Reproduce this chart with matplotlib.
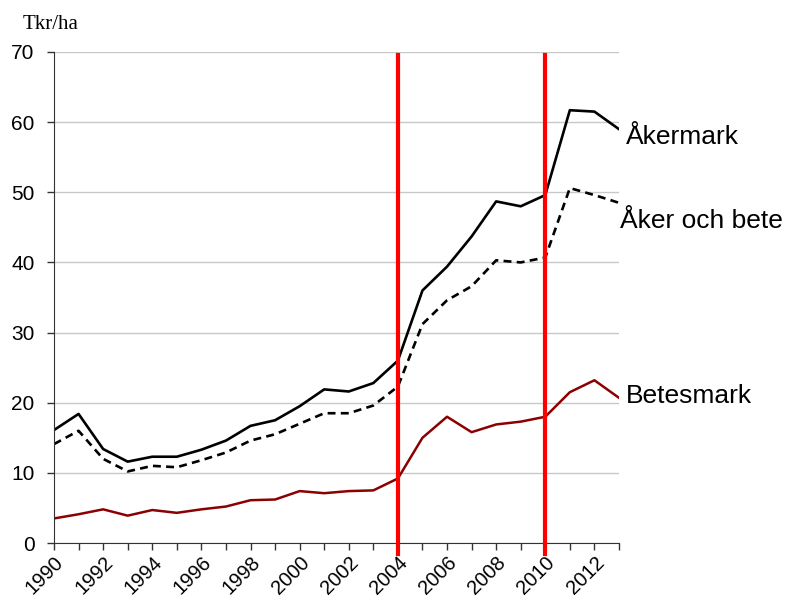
import matplotlib
matplotlib.use("Agg")
import matplotlib.pyplot as plt

# Värden (tkr/ha)
years = list(range(1990, 2014))
akermark = [16.1, 18.4, 13.4, 11.6, 12.3, 12.3, 13.3, 14.6, 16.7, 17.5, 19.5, 21.9,
            21.6, 22.8, 26.0, 36.0, 39.4, 43.7, 48.7, 48.0, 49.6, 61.7, 61.5, 59.0]
aker_och_bete = [14.1, 16.0, 12.0, 10.2, 11.0, 10.8, 11.8, 12.9, 14.6, 15.5, 17.0, 18.5,
                 18.5, 19.6, 22.3, 31.2, 34.6, 36.6, 40.3, 40.0, 40.7, 50.6, 49.6, 48.5]
betesmark = [3.5, 4.1, 4.8, 3.9, 4.7, 4.3, 4.8, 5.2, 6.1, 6.2, 7.4, 7.1,
             7.4, 7.5, 9.2, 15.0, 18.0, 15.8, 16.9, 17.3, 18.0, 21.5, 23.2, 20.7]
event_years = [2004, 2010]
yticks = [0, 10, 20, 30, 40, 50, 60, 70]
xtick_years = list(range(1990, 2013, 2))

plt.rcParams["font.family"] = ["Liberation Sans", "DejaVu Sans"]

fig = plt.figure(figsize=(7.86, 6.01), dpi=100)
ax = fig.add_axes([0.0687, 0.0965, 0.7188, 0.817])

ax.plot(years, akermark, color="black", lw=1.9)
ax.plot(years, aker_och_bete, color="black", lw=1.9, ls=(0, (3, 2)))
ax.plot(years, betesmark, color="#8b0000", lw=1.8)

for yr in event_years:
    ax.plot([yr, yr], [-1.5, 69.6], color="#ff0000", lw=3.0, clip_on=False, zorder=5)

ax.set_xlim(1990, 2013)
ax.set_ylim(0, 70)
ax.set_yticks(yticks)
ax.set_xticks(years)
ax.set_xticklabels([str(y) if y in xtick_years else "" for y in years],
                   rotation=45, ha="right", rotation_mode="anchor")
ax.tick_params(axis="both", length=5, width=1, color="#333333")
ax.tick_params(axis="y", labelsize=15, pad=9)
ax.tick_params(axis="x", labelsize=14.5, pad=2)
ax.grid(axis="y", color="#c8c8c8", lw=1)
ax.set_axisbelow(True)
for side in ("top", "right"):
    ax.spines[side].set_visible(False)
for side in ("left", "bottom"):
    ax.spines[side].set_color("#333333")

# Serienamn till höger om linjerna
ax.annotate("Åkermark", xy=(2013, akermark[-1]), xytext=(5, -6),
            textcoords="offset points", fontsize=19, va="center", ha="left",
            annotation_clip=False)
ax.annotate("Åker och bete", xy=(2013, aker_och_bete[-1]), xytext=(1, -13),
            textcoords="offset points", fontsize=19, va="center", ha="left",
            annotation_clip=False)
ax.annotate("Betesmark", xy=(2013, betesmark[-1]), xytext=(5, 1),
            textcoords="offset points", fontsize=19, va="center", ha="left",
            annotation_clip=False)

fig.text(0.029, 0.96, "Tkr/ha", fontsize=15, family=["Liberation Serif", "DejaVu Serif"],
         va="center", ha="left")

fig.savefig("out.png", dpi=100)
